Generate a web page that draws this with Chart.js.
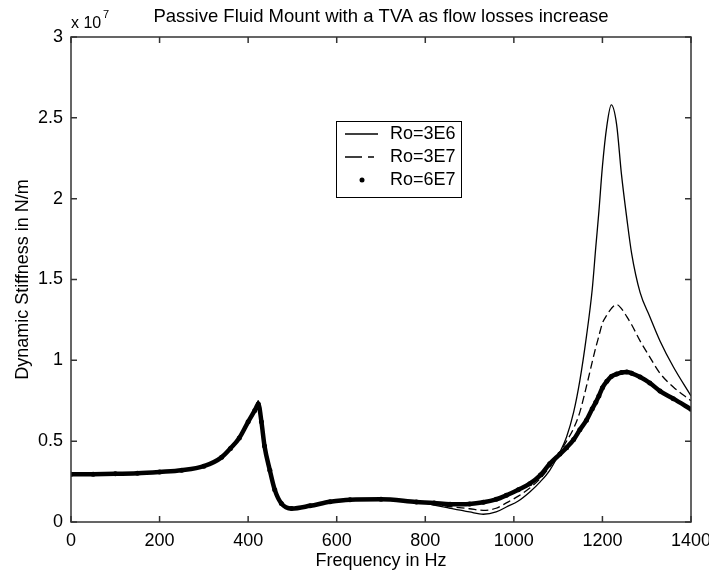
<!DOCTYPE html>
<html>
<head>
<meta charset="utf-8">
<script src="https://cdn.jsdelivr.net/npm/chart.js@4.4.0/dist/chart.umd.min.js"></script>
<style>
body { margin: 0; background: #fff; }
#wrap { width: 709px; height: 576px; position: relative; }
</style>
</head>
<body>
<div id="wrap"><canvas id="canvas"></canvas></div>
<script>
var chartTitle = 'Passive Fluid Mount with a TVA as flow losses increase';
var xTitle = 'Frequency in Hz';
var yTitle = 'Dynamic Stiffness in N/m';
var seriesNames = ['Ro=3E6', 'Ro=3E7', 'Ro=6E7'];

// frequency in Hz
var freq = [0, 50, 100, 150, 200, 250, 300, 340, 360, 380, 400, 415, 423, 430, 437, 449, 460, 475, 498,
	540, 585, 630, 700, 780, 820, 856, 900, 931, 960, 983, 1010, 1036, 1060, 1081, 1104, 1119, 1135,
	1149, 1164, 1177, 1185, 1192, 1200, 1210, 1220, 1232, 1243, 1255, 1266, 1285, 1307, 1330, 1360, 1400];

// stiffness in units of 1e7 N/m
var ro3e6 = [0.295, 0.296, 0.298, 0.302, 0.31, 0.32, 0.345, 0.40, 0.455, 0.52, 0.62, 0.69, 0.75, 0.63, 0.47, 0.32, 0.20, 0.115, 0.083,
	0.10, 0.125, 0.138, 0.14, 0.124, 0.105, 0.085, 0.062, 0.048, 0.062, 0.093, 0.13, 0.186, 0.25, 0.32, 0.433, 0.526, 0.68,
	0.875, 1.15, 1.44, 1.70, 1.92, 2.20, 2.45, 2.58, 2.46, 2.15, 1.88, 1.66, 1.42, 1.27, 1.12, 0.96, 0.78];
var ro3e7 = [0.295, 0.296, 0.298, 0.302, 0.31, 0.32, 0.345, 0.40, 0.455, 0.52, 0.62, 0.69, 0.745, 0.63, 0.47, 0.32, 0.20, 0.115, 0.083,
	0.10, 0.125, 0.138, 0.14, 0.124, 0.11, 0.095, 0.082, 0.072, 0.085, 0.118, 0.16, 0.21, 0.27, 0.34, 0.433, 0.50, 0.58,
	0.68, 0.84, 0.99, 1.08, 1.15, 1.23, 1.28, 1.32, 1.345, 1.32, 1.27, 1.22, 1.12, 1.02, 0.92, 0.835, 0.75];
var ro6e7 = [0.295, 0.296, 0.298, 0.302, 0.31, 0.32, 0.345, 0.40, 0.455, 0.52, 0.62, 0.69, 0.73, 0.62, 0.47, 0.32, 0.20, 0.115, 0.083,
	0.10, 0.125, 0.138, 0.14, 0.124, 0.118, 0.11, 0.112, 0.122, 0.14, 0.165, 0.20, 0.237, 0.29, 0.36, 0.42, 0.46, 0.51,
	0.57, 0.63, 0.70, 0.74, 0.78, 0.83, 0.87, 0.90, 0.915, 0.925, 0.928, 0.92, 0.897, 0.86, 0.81, 0.763, 0.697];

var xTicks = [0, 200, 400, 600, 800, 1000, 1200, 1400];
var yTicks = [0, 0.5, 1, 1.5, 2, 2.5, 3];

var fontFamily = '"Liberation Sans", Arial, Helvetica, sans-serif';

function points(values) {
	return freq.map(function(f, i) { return {x: f, y: values[i]}; });
}

// matlab style box with inward ticks, title, exponent label and legend
var matlabAxes = {
	id: 'matlabAxes',
	afterDatasetsDraw: function(chart) {
		var ctx = chart.ctx;
		var a = chart.chartArea;
		var xs = chart.scales.x, ys = chart.scales.y;
		ctx.save();
		ctx.strokeStyle = '#333';
		ctx.lineWidth = 1.5;
		ctx.strokeRect(a.left, a.top, a.right - a.left, a.bottom - a.top);
		ctx.beginPath();
		xs.ticks.forEach(function(t) {
			var px = xs.getPixelForValue(t.value);
			ctx.moveTo(px, a.bottom); ctx.lineTo(px, a.bottom - 6);
			ctx.moveTo(px, a.top); ctx.lineTo(px, a.top + 6);
		});
		ys.ticks.forEach(function(t) {
			var py = ys.getPixelForValue(t.value);
			ctx.moveTo(a.left, py); ctx.lineTo(a.left + 6, py);
			ctx.moveTo(a.right, py); ctx.lineTo(a.right - 6, py);
		});
		ctx.stroke();

		// title
		ctx.fillStyle = '#000';
		ctx.font = '18.5px ' + fontFamily;
		ctx.textAlign = 'center';
		ctx.textBaseline = 'middle';
		ctx.fillText(chartTitle, (a.left + a.right) / 2, 17);

		// exponent
		ctx.textAlign = 'left';
		ctx.textBaseline = 'alphabetic';
		ctx.font = '16px ' + fontFamily;
		ctx.fillText('x 10', a.left, 28);
		ctx.font = '11px ' + fontFamily;
		ctx.fillText('7', a.left + 32, 18);

		// legend
		var lx = 336, ly = 121, lw = 125, lh = 76;
		ctx.fillStyle = '#fff';
		ctx.fillRect(lx, ly, lw, lh);
		ctx.strokeStyle = '#000';
		ctx.lineWidth = 1;
		ctx.strokeRect(lx + 0.5, ly + 0.5, lw, lh);
		var rows = [134, 157, 180];
		chart.data.datasets.forEach(function(ds, i) {
			var ry = rows[i];
			ctx.strokeStyle = '#000';
			ctx.lineWidth = 1.3;
			if (i === 0) {
				ctx.setLineDash([]);
				ctx.beginPath(); ctx.moveTo(345, ry); ctx.lineTo(378, ry); ctx.stroke();
			} else if (i === 1) {
				ctx.setLineDash([17, 6]);
				ctx.beginPath(); ctx.moveTo(345, ry); ctx.lineTo(374, ry); ctx.stroke();
				ctx.setLineDash([]);
			} else {
				ctx.fillStyle = '#000';
				ctx.beginPath(); ctx.arc(362, ry, 2.5, 0, Math.PI * 2); ctx.fill();
			}
			ctx.fillStyle = '#000';
			ctx.font = '18px ' + fontFamily;
			ctx.textAlign = 'left';
			ctx.textBaseline = 'middle';
			ctx.fillText(ds.label, 390, ry);
		});
		ctx.restore();
	}
};

var ctx = document.getElementById('canvas').getContext('2d');
var chart = new Chart(ctx, {
	type: 'line',
	data: {
		datasets: [{
			label: seriesNames[0],
			data: points(ro3e6),
			borderColor: '#000',
			borderWidth: 1.3,
			pointRadius: 0,
			cubicInterpolationMode: 'monotone'
		}, {
			label: seriesNames[1],
			data: points(ro3e7),
			borderColor: '#000',
			borderWidth: 1.3,
			borderDash: [8, 4],
			pointRadius: 0,
			cubicInterpolationMode: 'monotone'
		}, {
			label: seriesNames[2],
			data: points(ro6e7),
			borderColor: '#000',
			borderWidth: 4.5,
			pointRadius: 2.5,
			pointBorderWidth: 0,
			pointBackgroundColor: '#000',
			cubicInterpolationMode: 'monotone'
		}]
	},
	options: {
		responsive: true,
		maintainAspectRatio: false,
		animation: false,
		layout: { padding: { top: 37, right: 18, left: 0, bottom: 0 } },
		plugins: {
			legend: { display: false },
			title: { display: false },
			tooltip: { enabled: false }
		},
		scales: {
			x: {
				type: 'linear',
				min: 0,
				max: 1400,
				afterBuildTicks: function(scale) {
					scale.ticks = xTicks.map(function(v) { return {value: v}; });
				},
				afterFit: function(scale) {
					scale.height = 54;
					scale.paddingLeft = 0;
					scale.paddingRight = 0;
				},
				grid: { display: false, drawTicks: false },
				border: { display: false },
				ticks: {
					color: '#000',
					padding: 8,
					maxRotation: 0,
					callback: function(v) { return String(v); },
					font: { family: fontFamily, size: 18 }
				},
				title: {
					display: true,
					text: xTitle,
					color: '#000',
					padding: { top: 0, bottom: 4 },
					font: { family: fontFamily, size: 18 }
				}
			},
			y: {
				type: 'linear',
				min: 0,
				max: 3,
				afterBuildTicks: function(scale) {
					scale.ticks = yTicks.map(function(v) { return {value: v}; });
				},
				afterFit: function(scale) {
					scale.width = 71;
					scale.paddingTop = 0;
					scale.paddingBottom = 0;
				},
				grid: { display: false, drawTicks: false },
				border: { display: false },
				ticks: {
					color: '#000',
					padding: 8,
					callback: function(v) { return String(v); },
					font: { family: fontFamily, size: 18 }
				},
				title: {
					display: true,
					text: yTitle,
					color: '#000',
					padding: { top: 12, bottom: 0 },
					font: { family: fontFamily, size: 18 }
				}
			}
		}
	},
	plugins: [matlabAxes]
});
</script>
</body>
</html>
